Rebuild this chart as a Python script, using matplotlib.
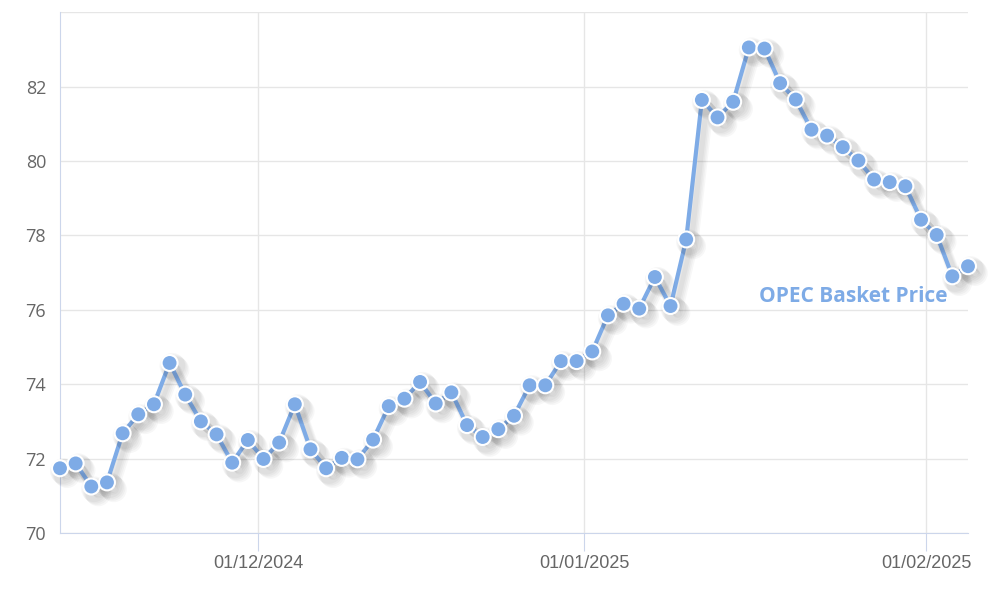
import numpy as np
import pandas as pd
import matplotlib
matplotlib.use('Agg')
from matplotlib import pyplot as plt
import matplotlib.patheffects as pe

# OPEC basket price, trading days (Highstock style ordinal axis)
dates = pd.bdate_range('2024-11-13', '2025-02-05')
dates = dates[~dates.isin(pd.to_datetime(['2024-12-25', '2025-01-01']))]
prices = [71.74, 71.87, 71.25, 71.36, 72.68, 73.19, 73.46, 74.57, 73.72, 73.00,
          72.65, 71.89, 72.50, 71.99, 72.43, 73.46, 72.25, 71.74, 72.02, 71.98,
          72.51, 73.41, 73.61, 74.06, 73.48, 73.78, 72.90, 72.58, 72.79, 73.15,
          73.97, 73.97, 74.62, 74.62, 74.88, 75.85, 76.16, 76.03, 76.88, 76.10,
          77.89, 81.64, 81.17, 81.59, 83.05, 83.02, 82.09, 81.65, 80.84, 80.68,
          80.37, 80.01, 79.50, 79.43, 79.32, 78.42, 78.01, 76.90, 77.17]
tick_dates = ['2024-12-01', '2025-01-01', '2025-02-01']
tick_labels = ['01/12/2024', '01/01/2025', '01/02/2025']
y_ticks = [70, 72, 74, 76, 78, 80, 82, 84]
series_name = 'OPEC Basket Price'

blue = '#7eabe6'
idx = np.arange(len(prices))
# ordinal axis: place date ticks between the trading days
tick_pos = np.interp(pd.to_datetime(tick_dates).asi8, dates.asi8, idx)

fig = plt.figure(figsize=(10, 6.05), dpi=100)
ax = fig.add_axes([0.06, 0.119, 0.908, 0.861])

# soft drop shadow, several faint layers
shadow = [pe.SimpleLineShadow(offset=(o, -o), shadow_color='#000000', alpha=0.03, linewidth=7)
          for o in (2, 3, 4, 5)]
ax.plot(idx, prices, color=blue, lw=3, marker='o', ms=11.5, mfc=blue, mec='white', mew=1.5,
        path_effects=shadow + [pe.Normal()], zorder=3, clip_on=False)

ax.set_xlim(0, len(prices) - 1)
ax.set_ylim(70, 84)
ax.set_yticks(y_ticks)
ax.set_yticklabels([str(v) if v < 84 else '' for v in y_ticks], family=['Open Sans', 'DejaVu Sans'])
ax.set_xticks(tick_pos)
ax.set_xticklabels(tick_labels, family=['Liberation Sans', 'DejaVu Sans'])

ax.grid(True, color='#e6e6e6', lw=1)
ax.set_axisbelow(True)
for s in ['top', 'right']:
    ax.spines[s].set_visible(False)
ax.spines['left'].set_color('#ccd6eb')
ax.spines['bottom'].set_color('#ccd6eb')
ax.tick_params(axis='y', length=0, pad=10, labelsize=13, labelcolor='#666666')
ax.tick_params(axis='x', length=13, color='#ccd6eb', pad=3, labelsize=13, labelcolor='#666666')

ax.text(56.7, 76.36, series_name, color=blue, fontsize=15, fontweight='bold',
        family=['Open Sans', 'DejaVu Sans'], ha='right', va='center')

plt.savefig('out.png', dpi=100)
